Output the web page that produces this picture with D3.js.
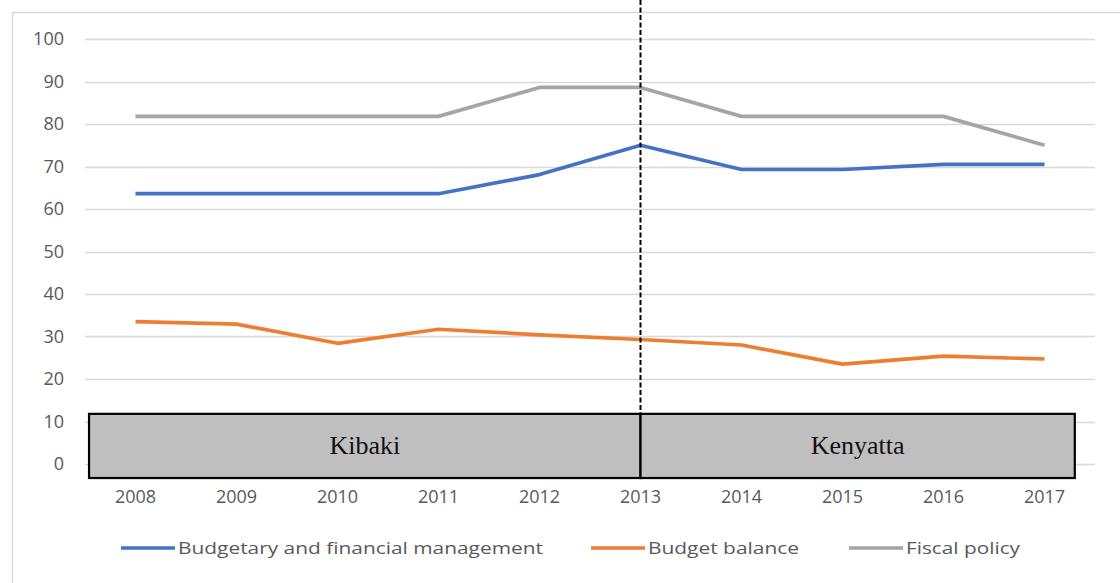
<!DOCTYPE html>
<html>
<head>
<meta charset="utf-8">
<title>Budget indicators 2008-2017</title>
<script src="https://d3js.org/d3.v7.min.js"></script>
<style>
  body { margin: 0; background: #fff; }
  svg { display: block; }
  .tick-label { font-family: "Open Sans", sans-serif; font-size: 18px; fill: #595959; }
  .legend-label { font-family: "Open Sans", sans-serif; font-size: 17px; fill: #595959; }
  .regime-label { font-family: "Liberation Serif", serif; font-size: 26px; fill: #111; }
</style>
</head>
<body>
<svg width="1120" height="583"></svg>
<script>
// data
var years = [2008, 2009, 2010, 2011, 2012, 2013, 2014, 2015, 2016, 2017];
var yTicks = [0, 10, 20, 30, 40, 50, 60, 70, 80, 90, 100];
var budgetaryMgmt = [63.6, 63.6, 63.6, 63.6, 68.1, 75.0, 69.3, 69.3, 70.5, 70.5];
var budgetBalance = [33.5, 32.9, 28.4, 31.7, 30.4, 29.3, 28.0, 23.5, 25.4, 24.7];
var fiscalPolicy = [81.8, 81.8, 81.8, 81.8, 88.6, 88.6, 81.8, 81.8, 81.8, 75.0];
var seriesNames = ["Budgetary and financial management", "Budget balance", "Fiscal policy"];
var seriesColors = ["#4472c4", "#ed7d31", "#a5a5a5"];
// presidential terms shown as the grey band across the bottom
var regimeNames = ["Kibaki", "Kenyatta"];
var regimeStart = [2007.54, 2013];
var regimeEnd = [2013, 2017.3];
var bandTop = 11.8, bandBottom = -3.3;
var splitYear = 2013;

var svg = d3.select("svg");

var x = d3.scaleLinear()
  .domain([2008, 2017])
  .range([135.5, 1044.5]);

var y = d3.scaleLinear()
  .domain([0, 100])
  .range([464, 39]);

// chart area outline
svg.append("rect")
  .attr("x", 12.5).attr("y", 12.5)
  .attr("width", 1200).attr("height", 700)
  .attr("fill", "none")
  .attr("stroke", "#d9d9d9")
  .attr("stroke-width", 1.5);

// gridlines
svg.append("g")
  .selectAll("line")
  .data(yTicks)
  .enter().append("line")
    .attr("x1", x(2007.5)).attr("x2", x(2017.5))
    .attr("y1", function(d) { return Math.round(y(d)) + 0.5; })
    .attr("y2", function(d) { return Math.round(y(d)) + 0.5; })
    .attr("stroke", "#d9d9d9")
    .attr("stroke-width", 1.3);

// y labels
svg.append("g")
  .selectAll("text")
  .data(yTicks)
  .enter().append("text")
    .attr("class", "tick-label")
    .attr("x", 64)
    .attr("y", function(d) { return y(d); })
    .attr("dy", "0.35em")
    .attr("text-anchor", "end")
    .text(function(d) { return d; });

// x labels
svg.append("g")
  .selectAll("text")
  .data(years)
  .enter().append("text")
    .attr("class", "tick-label")
    .attr("x", function(d) { return x(d); })
    .attr("y", 497)
    .attr("dy", "0.35em")
    .attr("text-anchor", "middle")
    .text(function(d) { return d; });

// lines
var allSeries = [budgetaryMgmt, budgetBalance, fiscalPolicy];
var line = d3.line()
  .x(function(d, i) { return x(years[i]); })
  .y(function(d) { return y(d); });

svg.append("g")
  .selectAll("path")
  .data(allSeries)
  .enter().append("path")
    .attr("d", line)
    .attr("fill", "none")
    .attr("stroke", function(d, i) { return seriesColors[i]; })
    .attr("stroke-width", 3.7)
    .attr("stroke-linejoin", "round");

// dashed divider
svg.append("line")
  .attr("x1", x(splitYear)).attr("x2", x(splitYear))
  .attr("y1", 0).attr("y2", y(bandTop))
  .attr("stroke", "#000")
  .attr("stroke-width", 2)
  .attr("stroke-dasharray", "5,2.5");

// regime band
var band = svg.append("g");
band.selectAll("rect")
  .data(regimeNames)
  .enter().append("rect")
    .attr("x", function(d, i) { return x(regimeStart[i]); })
    .attr("y", y(bandTop))
    .attr("width", function(d, i) { return x(regimeEnd[i]) - x(regimeStart[i]); })
    .attr("height", y(bandBottom) - y(bandTop))
    .attr("fill", "#bfbfbf")
    .attr("stroke", "#000")
    .attr("stroke-width", 2.2);

band.selectAll("text")
  .data(regimeNames)
  .enter().append("text")
    .attr("class", "regime-label")
    .attr("x", function(d, i) { return (x(regimeStart[i]) + x(regimeEnd[i])) / 2; })
    .attr("y", y((bandTop + bandBottom) / 2))
    .attr("dy", "0.32em")
    .attr("text-anchor", "middle")
    .text(function(d) { return d; });

// legend
var legendX = [121, 591, 849];
var legendW = [365, 151, 114];
var legend = svg.append("g").attr("transform", "translate(0,548)");
var items = legend.selectAll("g")
  .data(seriesNames)
  .enter().append("g")
    .attr("transform", function(d, i) { return "translate(" + legendX[i] + ",0)"; });
items.append("line")
  .attr("x1", 0).attr("x2", 54)
  .attr("stroke", function(d, i) { return seriesColors[i]; })
  .attr("stroke-width", 3.7);
items.append("text")
  .attr("class", "legend-label")
  .attr("x", 57)
  .attr("dy", "0.35em")
  .attr("textLength", function(d, i) { return legendW[i]; })
  .attr("lengthAdjust", "spacingAndGlyphs")
  .text(function(d) { return d; });
</script>
</body>
</html>
